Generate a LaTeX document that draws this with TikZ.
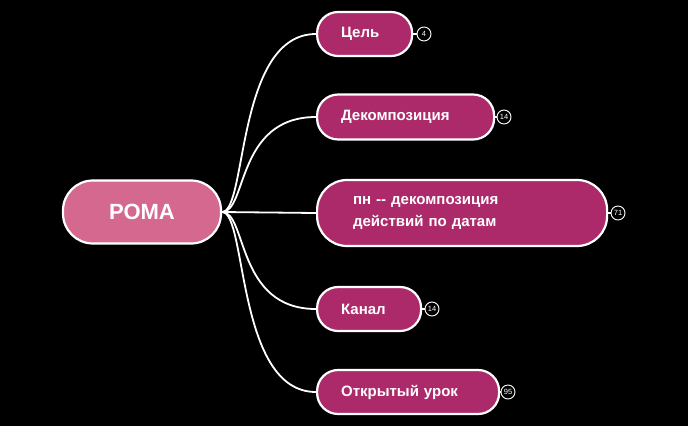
\documentclass[tikz,border=0pt]{standalone}
\usepackage{fontspec}
\setmainfont{Liberation Sans}
\usetikzlibrary{calc}
\pgfdeclarelayer{bg}
\pgfdeclarelayer{lines}
\pgfsetlayers{bg,lines,main}
\begin{document}
\begin{tikzpicture}[x=1pt,y=-1pt,
  child/.style={draw=white,line width=2.2pt,fill=cA,rounded corners=21pt,text=white,font=\bfseries\fontsize{15}{22}\selectfont,align=left,anchor=west,inner xsep=0pt},
  badge/.style={circle,draw=white,line width=0.9pt,fill=black,text=white,inner sep=0pt,minimum size=14pt,font=\fontsize{7.5}{8}\selectfont},
  conn/.style={draw=white,line width=1.8pt}]
\definecolor{cA}{HTML}{AD2A6A}
\definecolor{cR}{HTML}{D4688E}
\begin{pgfonlayer}{bg}
\fill[black] (0,0) rectangle (688,426);
\end{pgfonlayer}
\useasboundingbox (0,0) rectangle (688,426);
\node[draw=white,line width=2.2pt,fill=cR,rounded corners=30pt,minimum width=158pt,minimum height=63pt,text=white,font=\bfseries\fontsize{22}{26}\selectfont] (root) at (142,212) {РОМА};
\node[child,minimum width=95pt,minimum height=44pt,text width=47pt] (c1) at (316,34) {Цель};
\node[child,minimum width=177pt,minimum height=45pt,text width=129pt] (c2) at (316,117) {Декомпозиция};
\node[child,minimum width=290pt,minimum height=66pt,text width=218pt,rounded corners=30pt] (c3) at (316,213) {пн -{}- декомпозиция\\действий по датам};
\node[child,minimum width=104pt,minimum height=44pt,text width=56pt] (c4) at (316,309) {Канал};
\node[child,minimum width=182pt,minimum height=44pt,text width=134pt] (c5) at (316,392) {Открытый урок};
\node[badge] (b1) at (424,34) {4};
\node[badge] (b2) at (504,117) {14};
\node[badge] (b3) at (618,213) {71};
\node[badge] (b4) at (432,309) {14};
\node[badge] (b5) at (508,392) {95};
\begin{pgfonlayer}{lines}
\foreach \i in {1,...,5}{
  \draw[conn] (c\i.east) -- (b\i.west);
}
\draw[conn] (root.east) -- (c3.west);
\foreach \i in {1,2,4,5}{
  \draw[conn] (root.east) .. controls ($(root.east)+(25,0)$) and ($(c\i.west)+(-80,0)$) .. (c\i.west);
}
\end{pgfonlayer}
\end{tikzpicture}
\end{document}
